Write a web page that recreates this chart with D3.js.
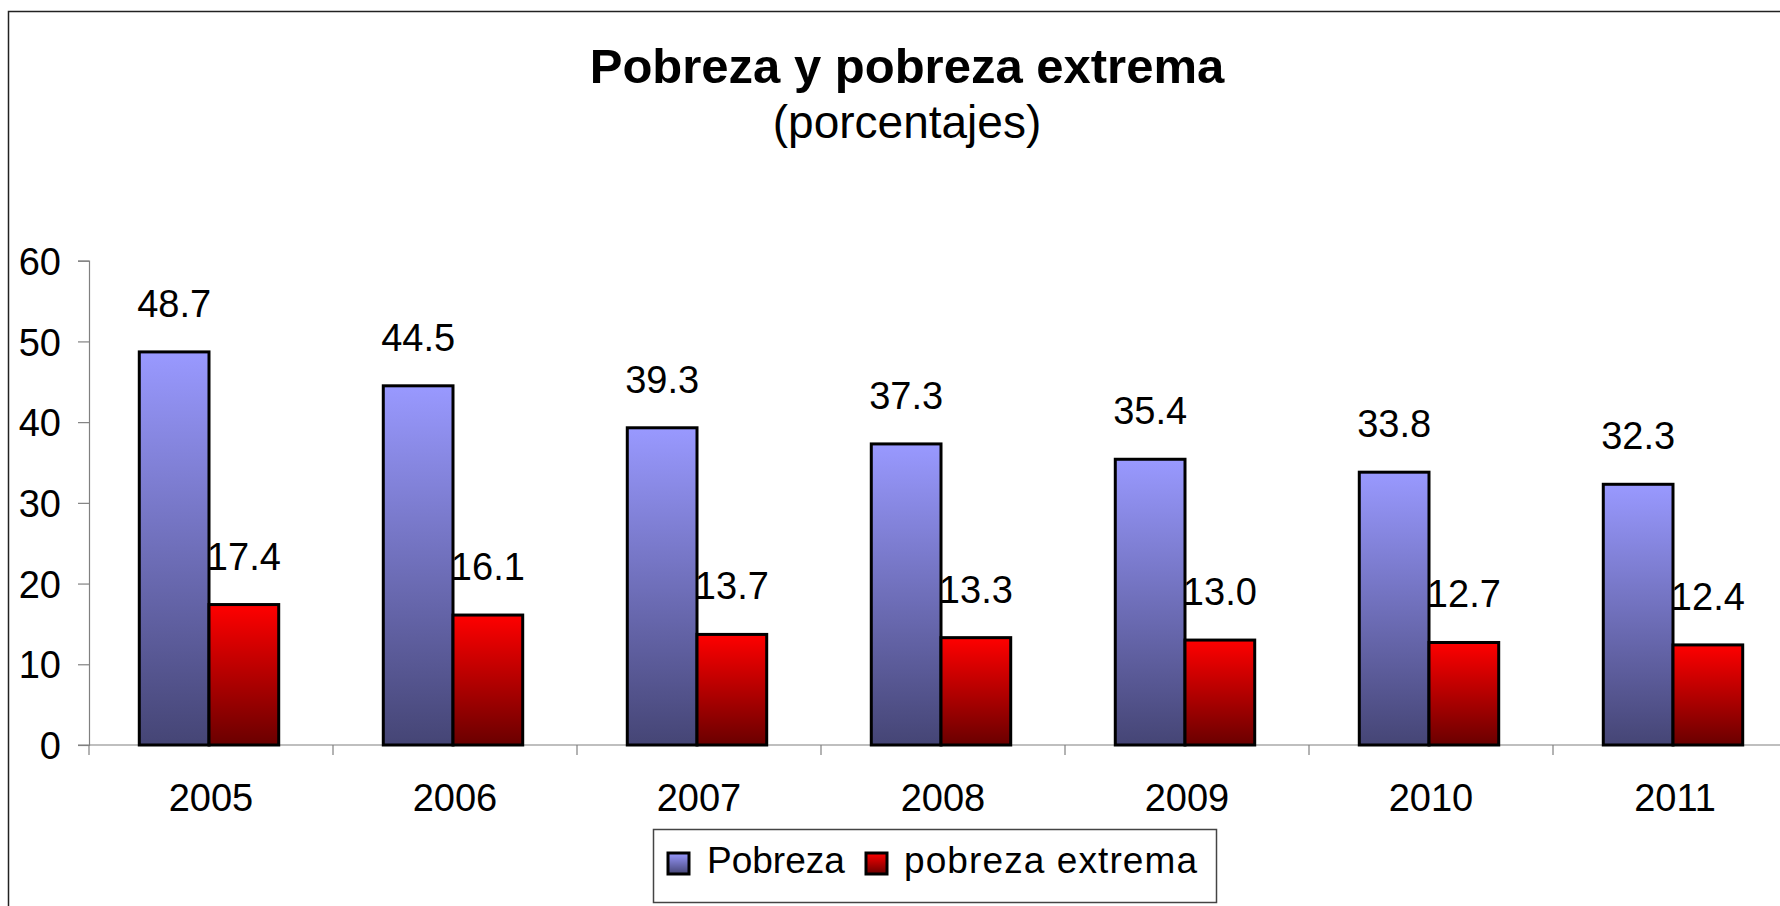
<!DOCTYPE html>
<html>
<head>
<meta charset="utf-8">
<script src="https://cdn.jsdelivr.net/npm/d3@7"></script>
<style>
  body { margin: 0; background: #fff; }
  svg text { font-family: "Liberation Sans", Arial, sans-serif; fill: #000; }
</style>
</head>
<body>
<svg id="chart" width="1780" height="906"></svg>
<script>
// --- data ---
const years = ["2005", "2006", "2007", "2008", "2009", "2010", "2011"];
const pobreza = [48.7, 44.5, 39.3, 37.3, 35.4, 33.8, 32.3];
const pobrezaExtrema = [17.4, 16.1, 13.7, 13.3, 13.0, 12.7, 12.4];
const yTicks = [0, 10, 20, 30, 40, 50, 60];
const seriesNames = ["Pobreza", "pobreza extrema"];

const svg = d3.select("#chart");

// gradients (per bar, top to bottom)
const defs = svg.append("defs");
function addGrad(id, top, bottom) {
  const g = defs.append("linearGradient").attr("id", id)
    .attr("x1", 0).attr("y1", 0).attr("x2", 0).attr("y2", 1);
  g.append("stop").attr("offset", "0%").attr("stop-color", top);
  g.append("stop").attr("offset", "100%").attr("stop-color", bottom);
}
addGrad("gBlue", "#9999ff", "#454575");
addGrad("gRed", "#ff0000", "#6a0000");
const fills = ["url(#gBlue)", "url(#gRed)"];

// outer chart frame (runs off the right and bottom of the picture)
svg.append("rect")
  .attr("x", 8.5).attr("y", 11.5)
  .attr("width", 1800).attr("height", 920)
  .attr("fill", "none").attr("stroke", "#222").attr("stroke-width", 1.5);

// titles
svg.append("text").attr("x", 907).attr("y", 83)
  .attr("text-anchor", "middle").attr("font-size", 49).attr("font-weight", "bold")
  .text("Pobreza y pobreza extrema");
svg.append("text").attr("x", 907).attr("y", 138)
  .attr("text-anchor", "middle").attr("font-size", 46)
  .text("(porcentajes)");

// scales
const x0 = 89, bandW = 244;
const x = d3.scaleBand().domain(years).range([x0, x0 + bandW * years.length]).padding(0);
const y = d3.scaleLinear().domain([0, 60]).range([745, 260.7]);
const barW = x.bandwidth() / 3.5;
const groupOff = (x.bandwidth() - 2 * barW) / 2 - 2;

// y axis
const yAxis = svg.append("g").attr("transform", `translate(${x0},0)`)
  .call(d3.axisLeft(y).tickValues(yTicks).tickSize(11).tickPadding(17).tickFormat(d3.format("d")));
yAxis.select(".domain").attr("stroke", "#808080").attr("stroke-width", 1.2);
yAxis.selectAll(".tick line").attr("stroke", "#808080").attr("stroke-width", 1.2);
yAxis.selectAll(".tick text").attr("font-size", 38).attr("font-family", "Liberation Sans, Arial, sans-serif").attr("dy", "0.36em");

// x axis line
svg.append("line").attr("x1", 78).attr("x2", 1780).attr("y1", y(0)).attr("y2", y(0))
  .attr("stroke", "#808080").attr("stroke-width", 1.2);
// category tick marks at band edges
svg.selectAll(".cat-tick").data(d3.range(years.length + 1)).enter().append("line")
  .attr("class", "cat-tick")
  .attr("x1", i => x0 + i * bandW).attr("x2", i => x0 + i * bandW)
  .attr("y1", y(0)).attr("y2", y(0) + 10)
  .attr("stroke", "#808080").attr("stroke-width", 1.2);
// category labels
svg.selectAll(".cat-label").data(years).enter().append("text")
  .attr("class", "cat-label")
  .attr("x", d => x(d) + x.bandwidth() / 2).attr("y", 811)
  .attr("text-anchor", "middle").attr("font-size", 38)
  .text(d => d);

// bars
const series = [pobreza, pobrezaExtrema];
series.forEach((vals, s) => {
  const g = svg.append("g");
  g.selectAll("rect").data(vals).enter().append("rect")
    .attr("x", (d, i) => x(years[i]) + groupOff + s * barW)
    .attr("y", d => y(d))
    .attr("width", barW)
    .attr("height", d => y(0) - y(d))
    .attr("fill", fills[s])
    .attr("stroke", "#000").attr("stroke-width", 3);
  g.selectAll("text").data(vals).enter().append("text")
    .attr("x", (d, i) => x(years[i]) + groupOff + s * barW + barW / 2)
    .attr("y", d => y(d) - 35)
    .attr("text-anchor", "middle").attr("font-size", 38)
    .text(d => d.toFixed(1));
});

// legend
const leg = svg.append("g");
leg.append("rect").attr("x", 653.5).attr("y", 829.5).attr("width", 563).attr("height", 73)
  .attr("fill", "#fff").attr("stroke", "#444").attr("stroke-width", 1.5);
const legItems = [{ sx: 668, tx: 707, ls: 0 }, { sx: 866, tx: 904, ls: 1.1 }];
seriesNames.forEach((name, i) => {
  leg.append("rect").attr("x", legItems[i].sx).attr("y", 853).attr("width", 21).attr("height", 21)
    .attr("fill", fills[i]).attr("stroke", "#000").attr("stroke-width", 3);
  leg.append("text").attr("x", legItems[i].tx).attr("y", 873).attr("font-size", 37)
    .attr("letter-spacing", legItems[i].ls).text(name);
});
</script>
</body>
</html>
